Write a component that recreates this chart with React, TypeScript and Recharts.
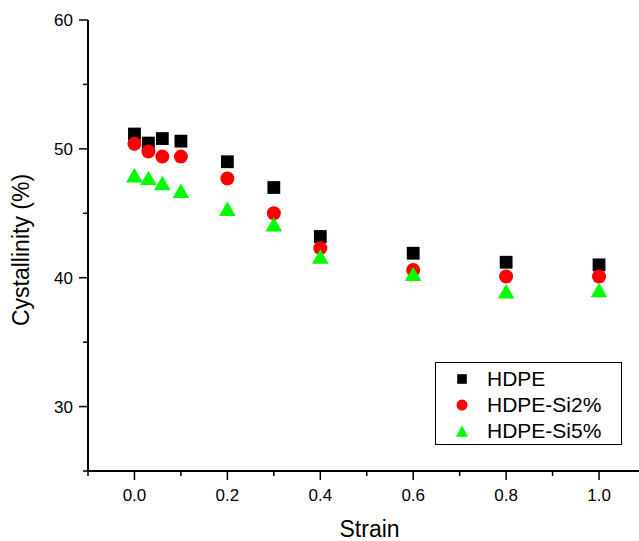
import React from 'react';
import { ScatterChart, Scatter, XAxis, YAxis, Legend } from 'recharts';

const strain = [0, 0.03, 0.06, 0.1, 0.2, 0.3, 0.4, 0.6, 0.8, 1.0];
const hdpe = [51.15, 50.45, 50.8, 50.6, 49.0, 47.0, 43.2, 41.9, 41.2, 41.0];
const hdpeSi2 = [50.4, 49.8, 49.4, 49.4, 47.7, 45.0, 42.3, 40.6, 40.1, 40.1];
const hdpeSi5 = [47.95, 47.75, 47.35, 46.75, 45.35, 44.15, 41.65, 40.3, 38.95, 39.05];

const seriesNames = ['HDPE', 'HDPE-Si2%', 'HDPE-Si5%'];
const seriesColors = ['#000000', '#ff0000', '#00ff00'];

const xTicks = [-0.1, 0, 0.1, 0.2, 0.3, 0.4, 0.5, 0.6, 0.7, 0.8, 0.9, 1.0, 1.1];
const yTicks = [25, 30, 35, 40, 45, 50, 55, 60];

const FONT = '"Liberation Sans", Arial, Helvetica, sans-serif';

const toData = (vals: number[]) => strain.map((s, i) => ({ x: s, y: vals[i] }));
const dHdpe = toData(hdpe);
const dSi2 = toData(hdpeSi2);
const dSi5 = toData(hdpeSi5);

const getC = (p: any) => {
  const cx = p.cx !== undefined ? p.cx : p.x + (p.width || 0) / 2;
  const cy = p.cy !== undefined ? p.cy : p.y + (p.height || 0) / 2;
  return { cx, cy };
};

const SquareShape = (p: any) => {
  const { cx, cy } = getC(p);
  const s = 12.8;
  return <rect x={cx - s / 2} y={cy - s / 2} width={s} height={s} fill={seriesColors[0]} />;
};
const CircleShape = (p: any) => {
  const { cx, cy } = getC(p);
  return <circle cx={cx} cy={cy} r={7} fill={seriesColors[1]} />;
};
const TriangleShape = (p: any) => {
  const { cx, cy } = getC(p);
  const hw = 8.3;
  const hh = 7.2;
  return (
    <polygon
      points={`${cx},${cy - hh} ${cx - hw},${cy + hh} ${cx + hw},${cy + hh}`}
      fill={seriesColors[2]}
    />
  );
};

const isMajorX = (v: number) => Math.round(v * 10) % 2 === 0;

const BottomTick = (props: any) => {
  const { x, y, payload } = props;
  const v = payload.value;
  const major = isMajorX(v) && v >= 0 && v <= 1.0;
  return (
    <g>
      <line x1={x} x2={x} y1={y} y2={y + (major ? 9 : 5)} stroke="#000" strokeWidth={1.5} />
      {major && (
        <text x={x} y={y + 29.5} textAnchor="middle" fontSize={17} fontFamily={FONT} fill="#000">
          {v.toFixed(1)}
        </text>
      )}
    </g>
  );
};

const TopTick = (props: any) => {
  const { x, y } = props;
  return <line x1={x} x2={x} y1={y} y2={y + 2.5} stroke="#000" strokeWidth={1.5} />;
};

const LeftTick = (props: any) => {
  const { x, y, payload } = props;
  const v = payload.value;
  const major = v % 10 === 0;
  return (
    <g>
      <line x1={x} x2={x - (major ? 9 : 5)} y1={y} y2={y} stroke="#000" strokeWidth={1.5} />
      {major && (
        <text x={x - 15} y={y + 6} textAnchor="end" fontSize={17} fontFamily={FONT} fill="#000">
          {v}
        </text>
      )}
    </g>
  );
};

const LegendBox = () => {
  const icon = (i: number) => {
    if (i === 0) return <rect x={1.2} y={1.2} width={9.6} height={9.6} fill={seriesColors[0]} />;
    if (i === 1) return <circle cx={6} cy={6} r={5.5} fill={seriesColors[1]} />;
    return <polygon points="6,0.2 0,11.8 12,11.8" fill={seriesColors[2]} />;
  };
  return (
    <div
      style={{
        width: 187,
        height: 83,
        border: '1px solid #000',
        boxSizing: 'border-box',
        background: '#fff',
        position: 'relative',
        fontFamily: FONT,
        fontSize: 21,
        color: '#000',
      }}
    >
      {seriesNames.map((n, i) => (
        <div
          key={n}
          style={{
            position: 'absolute',
            left: 20,
            top: 4 + i * 26,
            height: 24,
            display: 'flex',
            alignItems: 'center',
            whiteSpace: 'nowrap',
            lineHeight: '24px',
          }}
        >
          <svg width={12} height={12} style={{ display: 'block' }}>
            {icon(i)}
          </svg>
          <span style={{ marginLeft: 19 }}>{n}</span>
        </div>
      ))}
    </div>
  );
};

const YTitle = (props: any) => {
  const vb = props.viewBox || { x: 0, y: 20, width: 88, height: 451 };
  const cy = vb.y + vb.height / 2 + 4.5;
  const cx = 28.5;
  return (
    <text
      x={cx}
      y={cy}
      transform={`rotate(-90, ${cx}, ${cy})`}
      textAnchor="middle"
      fontSize={23}
      fontFamily={FONT}
      fill="#000"
    >
      Cystallinity (%)
    </text>
  );
};

const XTitle = (props: any) => {
  const vb = props.viewBox || { x: 88, y: 471, width: 557.5, height: 70 };
  const cx = vb.x + vb.width / 2 + 2.8;
  return (
    <text x={cx} y={537} textAnchor="middle" fontSize={23} fontFamily={FONT} fill="#000">
      Strain
    </text>
  );
};

export default function App() {
  return (
    <div
      style={{
        position: 'absolute',
        left: 0,
        top: 0,
        width: 639,
        height: 541,
        overflow: 'hidden',
        background: '#fff',
      }}
    >
      <ScatterChart
        width={660}
        height={541}
        margin={{ top: 20, right: 14.5, bottom: 0, left: 0 }}
        style={{ fontFamily: FONT }}
      >
        <XAxis
          xAxisId="b"
          type="number"
          dataKey="x"
          domain={[-0.1, 1.1]}
          ticks={xTicks}
          interval={0}
          height={70}
          tickSize={0}
          tickMargin={0}
          tickLine={false}
          axisLine={{ stroke: '#000', strokeWidth: 2 }}
          tick={<BottomTick />}
          allowDataOverflow
          label={<XTitle />}
        />
        <XAxis
          xAxisId="t"
          orientation="top"
          type="number"
          dataKey="x"
          domain={[-0.1, 1.1]}
          ticks={xTicks}
          interval={0}
          height={0}
          tickSize={0}
          tickMargin={0}
          tickLine={false}
          axisLine={{ stroke: '#000', strokeWidth: 2 }}
          tick={<TopTick />}
          allowDataOverflow
        />
        <YAxis
          type="number"
          dataKey="y"
          domain={[25, 60]}
          ticks={yTicks}
          interval={0}
          width={88}
          tickSize={0}
          tickMargin={0}
          tickLine={false}
          axisLine={{ stroke: '#000', strokeWidth: 2 }}
          tick={<LeftTick />}
          allowDataOverflow
          label={<YTitle />}
        />
        <Legend
          layout="vertical"
          align="center"
          verticalAlign="middle"
          wrapperStyle={{ left: 435, top: 362, width: 187, height: 83 }}
          content={() => <LegendBox />}
        />
        <Scatter name={seriesNames[0]} data={dHdpe} xAxisId="b" fill={seriesColors[0]} shape={SquareShape} isAnimationActive={false} />
        <Scatter name={seriesNames[1]} data={dSi2} xAxisId="b" fill={seriesColors[1]} shape={CircleShape} isAnimationActive={false} />
        <Scatter name={seriesNames[2]} data={dSi5} xAxisId="b" fill={seriesColors[2]} shape={TriangleShape} isAnimationActive={false} />
      </ScatterChart>
    </div>
  );
}
